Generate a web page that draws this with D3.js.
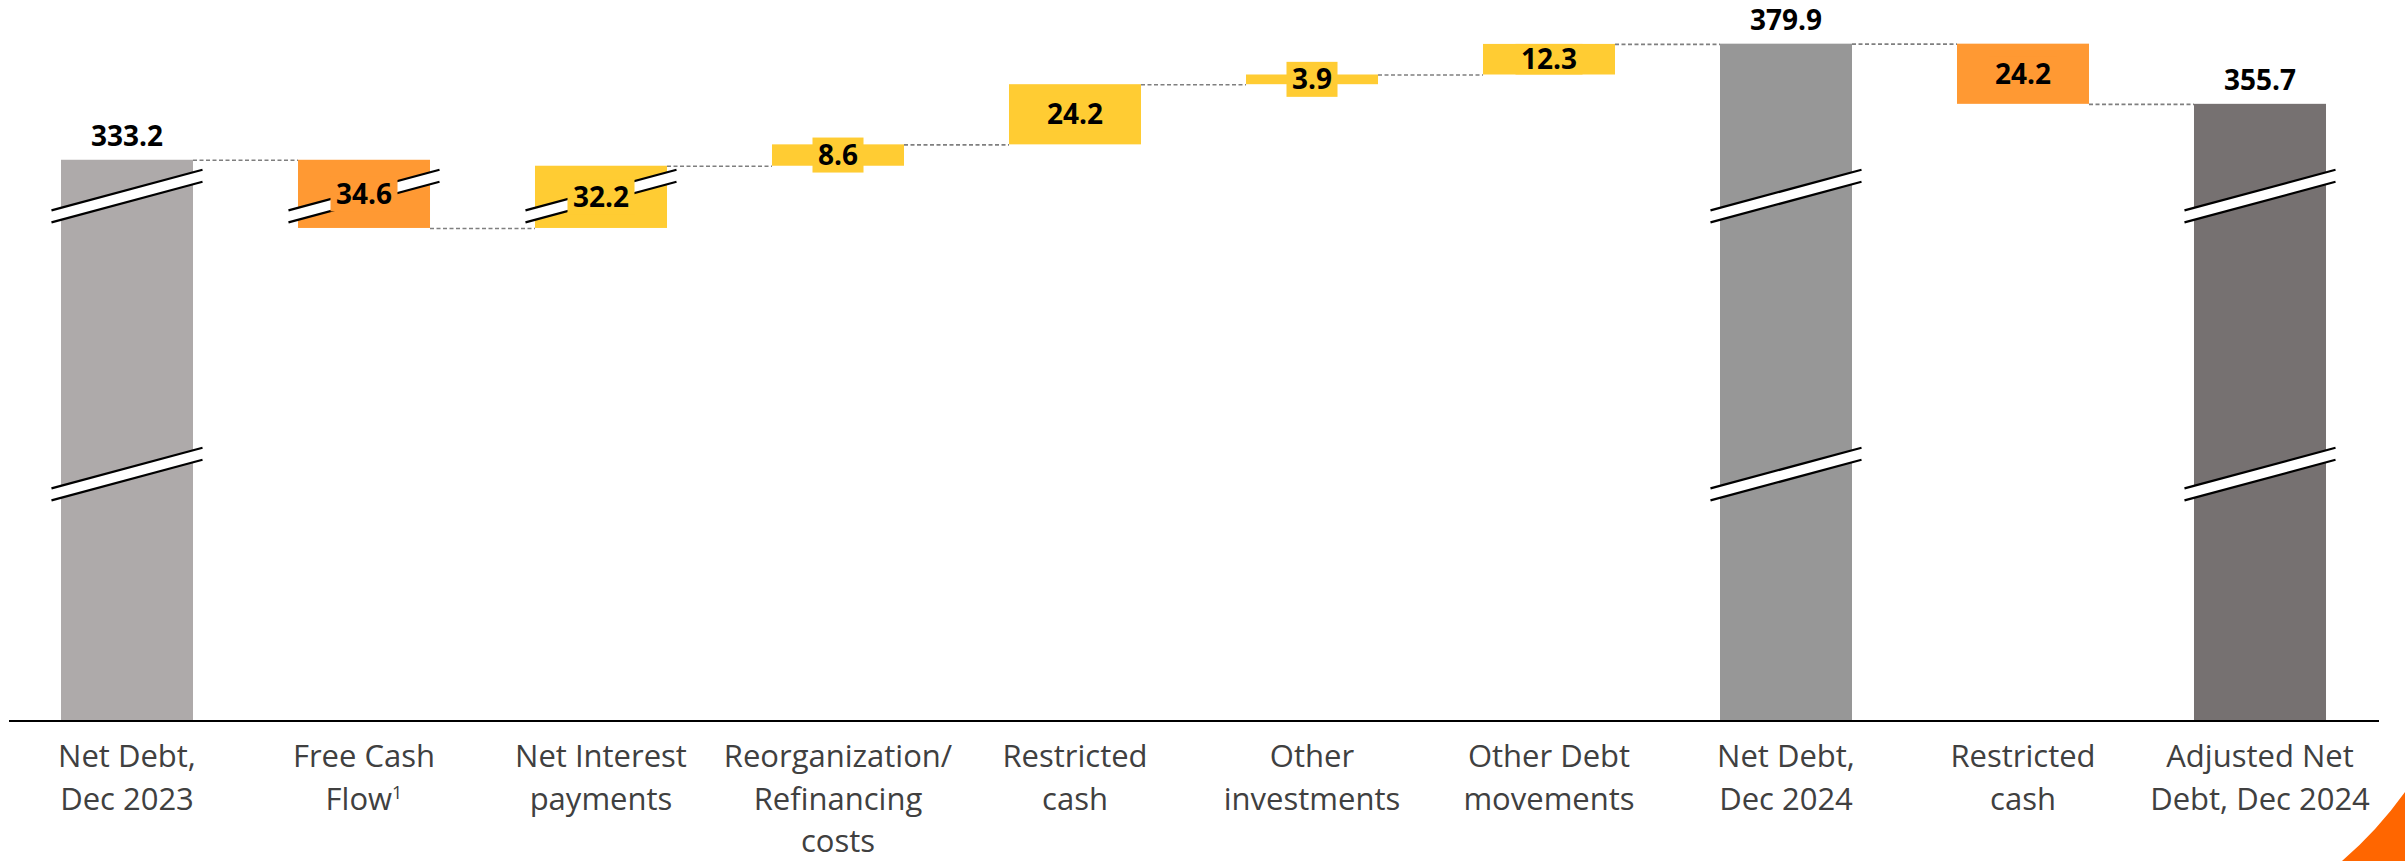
<!DOCTYPE html>
<html>
<head>
<meta charset="utf-8">
<script src="https://cdn.jsdelivr.net/npm/d3@7"></script>
<style>
  html, body { margin: 0; padding: 0; background: #ffffff; }
  svg { display: block; }
</style>
</head>
<body>
<svg id="chart" width="2405" height="861"></svg>
<script>
// Net debt bridge, Dec 2023 to Dec 2024 (waterfall)
const categories = [
  "Net Debt,\nDec 2023",
  "Free Cash\nFlow",
  "Net Interest\npayments",
  "Reorganization/\nRefinancing\ncosts",
  "Restricted\ncash",
  "Other\ninvestments",
  "Other Debt\nmovements",
  "Net Debt,\nDec 2024",
  "Restricted\ncash",
  "Adjusted Net\nDebt, Dec 2024"
];
const footnoteMarks = ["", "1", "", "", "", "", "", "", "", ""];
// Totals carry the level, steps carry the signed change
const stepTypes = ["total", "step", "step", "step", "step", "step", "step", "total", "step", "total"];
const values = [333.2, -34.6, 32.2, 8.6, 24.2, 3.9, 12.3, 379.9, -24.2, 355.7];

const totalColors = ["#AEAAAA", "#979797", "#767171"];
const upColor = "#FFCC33";
const downColor = "#FF9933";

// Scale breaks: each value range is squeezed into a narrow band
const scaleBreaks = [[96.5, 202], [309, 321]];
const yMax = 390;

const svg = d3.select("#chart");
const W = 2405, H = 861;
const baseY = 720;
const unitPx = 2.486;
const breakPx = 12;

// piecewise linear value scale with the breaks built in
const dom = [0], rng = [baseY];
let cy = baseY, cv = 0;
for (const [a, b] of scaleBreaks) {
  cy -= (a - cv) * unitPx; dom.push(a); rng.push(cy);
  cy -= breakPx; dom.push(b); rng.push(cy);
  cv = b;
}
cy -= (yMax - cv) * unitPx; dom.push(yMax); rng.push(cy);
const y = d3.scaleLinear().domain(dom).range(rng);

const x = d3.scaleBand()
  .domain(d3.range(categories.length))
  .range([8.5, 2378.5])
  .paddingInner(0.443)
  .paddingOuter(0.2215);

// running levels for each bar
let level = 0;
let totalIdx = 0;
const bars = values.map((v, i) => {
  if (stepTypes[i] === "total") {
    level = v;
    return { i, low: 0, high: v, end: v, value: v, color: totalColors[totalIdx++], total: true };
  }
  const start = level;
  level = start + v;
  return {
    i, low: Math.min(start, level), high: Math.max(start, level), end: level, value: v,
    color: v >= 0 ? upColor : downColor, total: false
  };
});

// connectors between consecutive bars
const connectors = bars.slice(0, -1).map((b, j) => ({ x1: x(j) + x.bandwidth(), x2: x(j + 1), v: b.end }));
svg.append("g").selectAll("line").data(connectors).join("line")
  .attr("x1", d => d.x1).attr("x2", d => d.x2)
  .attr("y1", d => y(d.v) + 0.5).attr("y2", d => y(d.v) + 0.5)
  .attr("stroke", "#7F7F7F").attr("stroke-width", 1.6)
  .attr("stroke-dasharray", "4,2.5");

// bars
svg.append("g").selectAll("rect").data(bars).join("rect")
  .attr("x", d => x(d.i))
  .attr("width", x.bandwidth())
  .attr("y", d => y(d.high))
  .attr("height", d => y(d.low) - y(d.high))
  .attr("fill", d => d.color);

// break marks on bars that span a break band
const slope = -0.2688;
const over = 9.5;
const breakG = svg.append("g");
bars.forEach(b => {
  scaleBreaks.forEach(([a, c]) => {
    if (b.low <= a && b.high >= c) {
      const x0 = x(b.i) - over, x1 = x(b.i) + x.bandwidth() + over;
      const cx = x(b.i) + x.bandwidth() / 2;
      const yTop = y(c), yBot = y(a);
      const at = (yc, xx) => yc + (xx - cx) * slope;
      breakG.append("path")
        .attr("d", `M${x0},${at(yTop, x0)}L${x1},${at(yTop, x1)}L${x1},${at(yBot, x1)}L${x0},${at(yBot, x0)}Z`)
        .attr("fill", "#ffffff");
      [yTop, yBot].forEach(yc => {
        breakG.append("line")
          .attr("x1", x0).attr("y1", at(yc, x0))
          .attr("x2", x1).attr("y2", at(yc, x1))
          .attr("stroke", "#000").attr("stroke-width", 2.2);
      });
    }
  });
});

// value labels
const fmt = d3.format(".1f");
const labelG = svg.append("g")
  .attr("font-family", "'Open Sans', sans-serif")
  .attr("font-weight", 700)
  .attr("font-size", 28)
  .attr("fill", "#000");

bars.forEach(b => {
  const cx = x(b.i) + x.bandwidth() / 2;
  const txt = fmt(Math.abs(b.value));
  if (b.total) {
    labelG.append("text")
      .attr("x", cx).attr("y", y(b.high) - 14)
      .attr("text-anchor", "middle")
      .text(txt);
  } else {
    const mid = (y(b.high) + y(b.low)) / 2;
    const box = labelG.append("rect").attr("fill", b.color);
    const t = labelG.append("text")
      .attr("x", cx).attr("y", mid + 10)
      .attr("text-anchor", "middle")
      .text(txt);
    const w = t.node().getComputedTextLength() + 11;
    const barH = y(b.low) - y(b.high);
    const bh = barH >= 28 ? Math.min(35, barH) : 35;
    box.attr("x", cx - w / 2).attr("width", w)
      .attr("y", mid - bh / 2).attr("height", bh);
  }
});

// category axis
const axis = d3.axisBottom(x).tickSize(0).tickFormat("");
const axisG = svg.append("g").attr("transform", `translate(0,${baseY + 0.5})`).call(axis);
axisG.select(".domain").attr("stroke", "#000").attr("stroke-width", 2.2);

const firstBaseline = 767;
const lineStep = 42.5;
const catG = svg.append("g")
  .attr("font-family", "'Open Sans', sans-serif")
  .attr("font-size", 31)
  .attr("fill", "#404040");
categories.forEach((c, i) => {
  const cx = x(i) + x.bandwidth() / 2;
  const lines = c.split("\n");
  const t = catG.append("text").attr("text-anchor", "middle");
  lines.forEach((ln, j) => {
    t.append("tspan").attr("x", cx).attr("y", firstBaseline + j * lineStep).text(ln);
  });
  if (footnoteMarks[i]) {
    // superscript footnote marker after the last line
    t.append("tspan").attr("dy", -11).attr("font-size", 18).text(footnoteMarks[i]);
  }
});

// corner accent
svg.append("path")
  .attr("d", `M${W - 63},${H} Q${W - 28},${H - 30} ${W},${H - 69} L${W},${H} Z`)
  .attr("fill", "#FF6600");
</script>
</body>
</html>
